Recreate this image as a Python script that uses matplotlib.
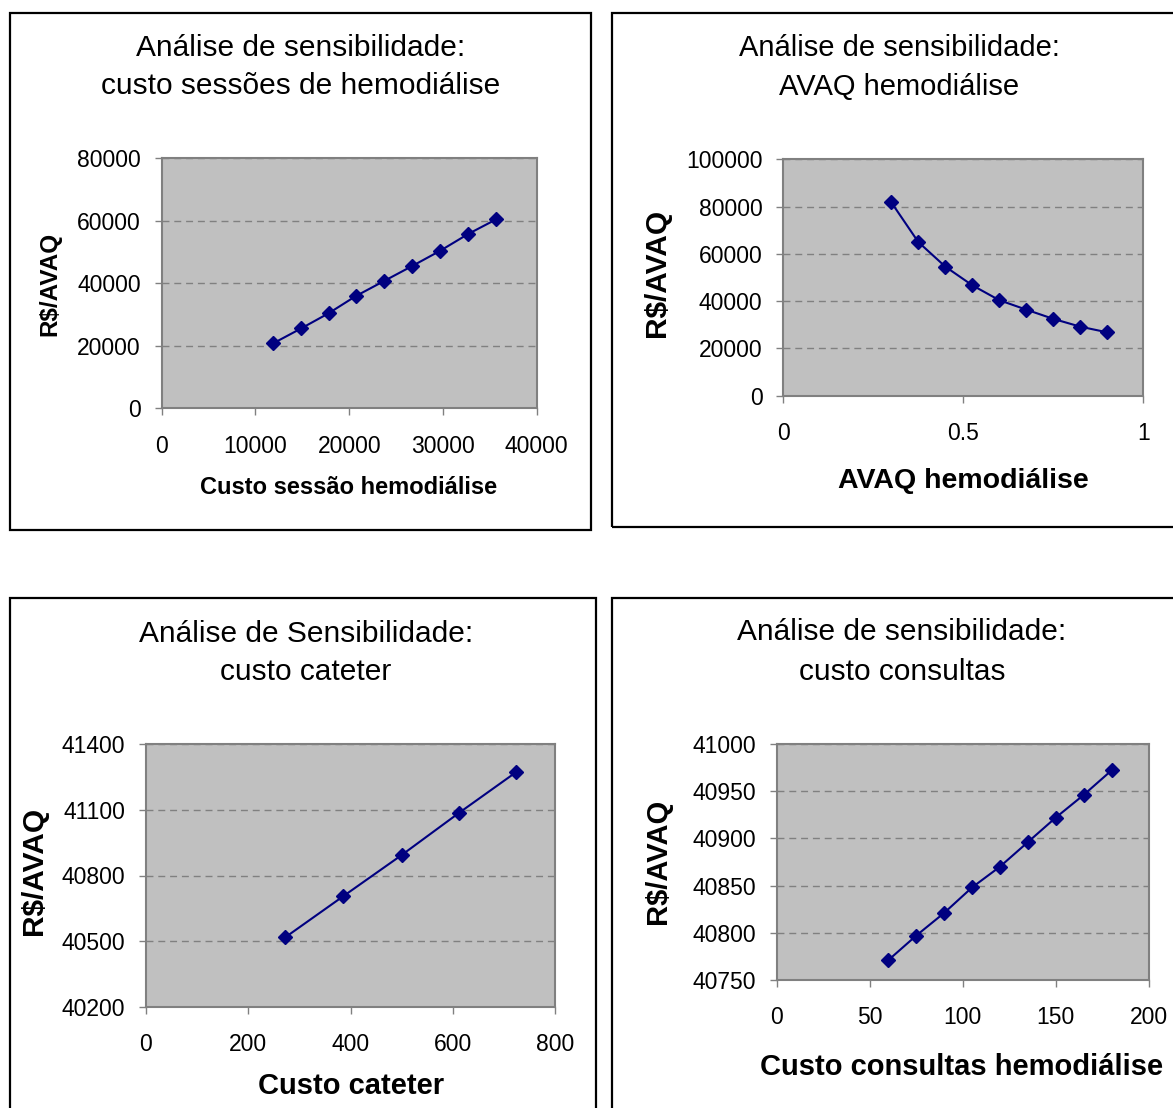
import matplotlib
matplotlib.use("Agg")
import matplotlib.pyplot as plt
from matplotlib.patches import Rectangle

plt.rcParams['font.family'] = ['Liberation Sans', 'DejaVu Sans']

# ---------------- data ----------------
p1_x = [11900, 14900, 17800, 20700, 23700, 26700, 29700, 32700, 35700]
p1_y = [20800, 25600, 30400, 35900, 40700, 45500, 50400, 55800, 60500]

p2_x = [0.3, 0.375, 0.45, 0.525, 0.6, 0.675, 0.75, 0.825, 0.9]
p2_y = [81800, 65000, 54600, 46700, 40400, 36400, 32500, 29200, 26800]

p3_x = [272, 386, 500, 611, 723]
p3_y = [40517, 40706, 40894, 41085, 41272]

p4_x = [60, 75, 90, 105, 120, 135, 150, 165, 180]
p4_y = [40771, 40797, 40821, 40848, 40870, 40896, 40922, 40946, 40972]

titles = ["Análise de sensibilidade:\ncusto sessões de hemodiálise",
          "Análise de sensibilidade:\nAVAQ hemodiálise",
          "Análise de Sensibilidade:\ncusto cateter",
          "Análise de sensibilidade:\ncusto consultas"]
xlabels = ["Custo sessão hemodiálise", "AVAQ hemodiálise",
           "Custo cateter", "Custo consultas hemodiálise"]
ylabel = "R$/AVAQ"

p1_xticks = [0, 10000, 20000, 30000, 40000]
p1_yticks = [0, 20000, 40000, 60000, 80000]
p2_xticks = [0, 0.5, 1]
p2_xticklabels = ["0", "0.5", "1"]
p2_yticks = [0, 20000, 40000, 60000, 80000, 100000]
p3_xticks = [0, 200, 400, 600, 800]
p3_yticks = [40200, 40500, 40800, 41100, 41400]
p4_xticks = [0, 50, 100, 150, 200]
p4_yticks = [40750, 40800, 40850, 40900, 40950, 41000]

# ---------------- layout ----------------
W, H = 1173, 1108
fig = plt.figure(figsize=(W / 100, H / 100), dpi=100)


def rect(l, t, r, b):
    return [l / W, 1 - b / H, (r - l) / W, (b - t) / H]


def fxy(x, y):
    return x / W, 1 - y / H


# outer boxes
boxes = [(9.5, 13, 591, 530), (612, 13, 1185, 527),
         (9.5, 598, 596, 1120), (612, 598, 1185, 1120)]
for (l, t, r, b) in boxes:
    fig.add_artist(Rectangle((l / W, 1 - b / H), (r - l) / W, (b - t) / H,
                             transform=fig.transFigure, fill=False,
                             edgecolor='black', linewidth=1.6, clip_on=False))

panels = [
    dict(x=p1_x, y=p1_y, rect=(161.7, 158.3, 536.7, 408.3),
         xlim=(0, 40000), ylim=(0, 80000), xt=p1_xticks, xtl=None, yt=p1_yticks,
         title=titles[0], tpos=(301, 67), tfs=21.5,
         xl=xlabels[0], xlpos=(349, 488), xlfs=17,
         ylpos=(50, 284), ylfs=17.5),
    dict(x=p2_x, y=p2_y, rect=(783.3, 159.3, 1143.3, 395.7),
         xlim=(0, 1), ylim=(0, 100000), xt=p2_xticks, xtl=p2_xticklabels, yt=p2_yticks,
         title=titles[1], tpos=(899, 67), tfs=21,
         xl=xlabels[1], xlpos=(963, 481), xlfs=20.5,
         ylpos=(657, 273), ylfs=21.5),
    dict(x=p3_x, y=p3_y, rect=(146, 744.3, 555.3, 1006.7),
         xlim=(0, 800), ylim=(40200, 41400), xt=p3_xticks, xtl=None, yt=p3_yticks,
         title=titles[2], tpos=(306, 653), tfs=21.5,
         xl=xlabels[2], xlpos=(351, 1086), xlfs=21,
         ylpos=(34, 871), ylfs=21.5),
    dict(x=p4_x, y=p4_y, rect=(776.7, 744, 1148.7, 980),
         xlim=(0, 200), ylim=(40750, 41000), xt=p4_xticks, xtl=None, yt=p4_yticks,
         title=titles[3], tpos=(902, 652), tfs=21.5,
         xl=xlabels[3], xlpos=(962, 1067), xlfs=21,
         ylpos=(658, 861), ylfs=21),
]

for p in panels:
    ax = fig.add_axes(rect(*p['rect']))
    ax.set_facecolor('#C0C0C0')
    ax.plot(p['x'], p['y'], color='#000080', linewidth=1.5, marker='D',
            markersize=7.5, markerfacecolor='#000080', markeredgecolor='#000080',
            zorder=3)
    ax.set_xlim(*p['xlim'])
    ax.set_ylim(*p['ylim'])
    ax.set_xticks(p['xt'])
    if p['xtl'] is not None:
        ax.set_xticklabels(p['xtl'])
    else:
        ax.set_xticklabels([str(v) for v in p['xt']])
    ax.set_yticks(p['yt'])
    ax.set_yticklabels([str(v) for v in p['yt']])
    ax.tick_params(axis='both', direction='out', length=5, width=1,
                   color='#808080', labelsize=16.5, labelcolor='black')
    ax.tick_params(axis='x', pad=14)
    ax.tick_params(axis='y', pad=10)
    for s in ax.spines.values():
        s.set_color('#808080')
        s.set_linewidth(1.5)
    ax.yaxis.grid(True, linestyle=(0, (5, 3.5)), color='#808080', linewidth=1)
    ax.set_axisbelow(True)

    tx, ty = fxy(*p['tpos'])
    fig.text(tx, ty, p['title'], ha='center', va='center', fontsize=p['tfs'],
             linespacing=1.5)
    lx, ly = fxy(*p['xlpos'])
    fig.text(lx, ly, p['xl'], ha='center', va='center', fontsize=p['xlfs'],
             fontweight='bold')
    yx, yy = fxy(*p['ylpos'])
    fig.text(yx, yy, ylabel, ha='center', va='center', rotation=90,
             fontsize=p['ylfs'], fontweight='bold')

fig.savefig("out.png", dpi=100)
